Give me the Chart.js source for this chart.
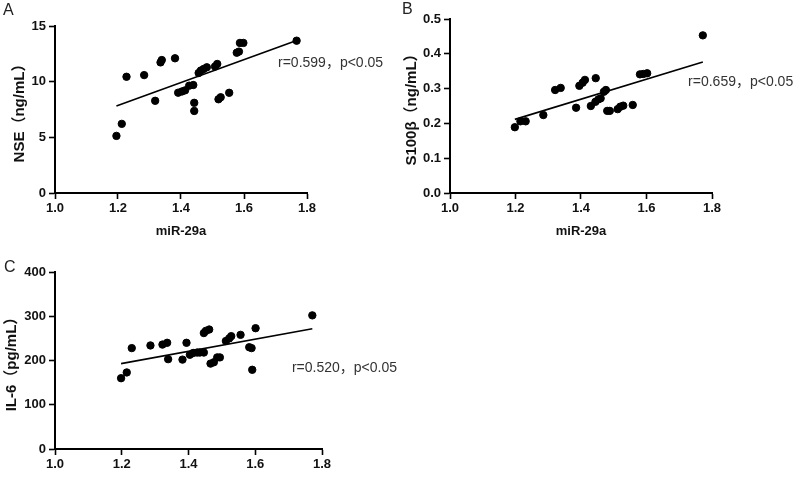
<!DOCTYPE html>
<html lang="zh">
<head>
  <meta charset="UTF-8">
  <title>miR-29a correlation</title>
  <style>
    /* page is a fixed 800x477 figure with three panels */
    body { margin: 0; background: #fff; }
    .figure { position: relative; width: 800px; height: 477px; overflow: hidden; background: #fff; }
    .panel { position: absolute; }
    .letter {
      position: absolute;
      font-family: 'Liberation Sans', Arial, sans-serif;
      font-size: 16px;
      color: #222;
    }
  </style>
</head>
<body>
  <div class="figure">
    <div class="panel" style="left:0;top:0;width:400px;height:245px"><canvas id="chartA"></canvas></div>
    <div class="panel" style="left:400px;top:0;width:400px;height:245px"><canvas id="chartB"></canvas></div>
    <div class="panel" style="left:0;top:255px;width:400px;height:222px"><canvas id="chartC"></canvas></div>
    <div class="letter" style="left:3px;top:1px">A</div>
    <div class="letter" style="left:402px;top:0px">B</div>
    <div class="letter" style="left:4px;top:258px">C</div>
  </div>

  <script src="https://cdn.jsdelivr.net/npm/chart.js"></script>
  <script>
    // miR-29a (x) vs NSE / S100β / IL-6 (y)
    const xTicks = [1.0, 1.2, 1.4, 1.6, 1.8];

    const nseX = [1.195,1.212,1.227,1.283,1.318,1.335,1.339,1.381,1.391,1.403,1.413,1.426,1.439,1.442,1.442,1.456,1.463,1.472,1.482,1.508,1.515,1.519,1.526,1.553,1.577,1.584,1.587,1.598,1.767];
    const nseY = [5.13,6.21,10.44,10.59,8.28,11.73,11.94,12.10,9.01,9.12,9.22,9.64,9.70,8.10,7.37,10.78,11.00,11.14,11.29,11.36,11.59,8.42,8.60,9.00,12.60,12.70,13.48,13.48,13.68];
    const nseFit = { slope: 10.3, intercept: -4.5 };
    const nseTicks = [0, 5, 10, 15];

    const s100X = [1.198,1.215,1.231,1.285,1.321,1.338,1.385,1.395,1.405,1.412,1.445,1.430,1.444,1.453,1.460,1.470,1.476,1.480,1.488,1.512,1.520,1.529,1.558,1.580,1.590,1.602,1.772];
    const s100Y = [0.189,0.206,0.206,0.224,0.296,0.302,0.245,0.308,0.317,0.325,0.330,0.250,0.262,0.269,0.272,0.291,0.296,0.236,0.236,0.241,0.248,0.251,0.253,0.341,0.342,0.344,0.453];
    const s100Fit = { slope: 0.2876, intercept: -0.133 };
    const s100Ticks = [0.0, 0.1, 0.2, 0.3, 0.4, 0.5];

    const il6X = [1.198,1.215,1.230,1.286,1.322,1.336,1.339,1.382,1.394,1.404,1.414,1.426,1.434,1.446,1.446,1.452,1.462,1.466,1.476,1.486,1.494,1.512,1.522,1.528,1.556,1.582,1.589,1.591,1.601,1.771];
    const il6Y = [160,173,228,234,236,240,203,202,240,213,217,218,218,218,262,267,270,193,196,207,207,244,250,255,258,230,228,179,273,302];
    const il6Fit = { slope: 137.9, intercept: 27.7 };
    const il6Ticks = [0, 100, 200, 300, 400];

    const FONT = "'Liberation Sans', 'Noto Sans CJK SC', Arial, sans-serif";

    // writes the r / p text next to the fit line
    const statsText = {
      id: 'statsText',
      afterDatasetsDraw(chart, args, opts) {
        if (!opts.text) return;
        const ctx = chart.ctx;
        const px = chart.scales.x.getPixelForValue(opts.x);
        const py = chart.scales.y.getPixelForValue(opts.y);
        ctx.save();
        ctx.font = '14px ' + FONT;
        ctx.fillStyle = '#333';
        ctx.textAlign = 'left';
        ctx.textBaseline = 'middle';
        ctx.fillText(opts.text, px, py);
        ctx.restore();
      }
    };

    function fitLine(xs, fit) {
      const lo = Math.min(...xs), hi = Math.max(...xs);
      return [lo, hi].map(x => ({ x: x, y: fit.slope * x + fit.intercept }));
    }

    function makeChart(id, p) {
      const pts = p.xs.map((x, i) => ({ x: x, y: p.ys[i] }));
      new Chart(document.getElementById(id), {
        type: 'scatter',
        data: {
          datasets: [
            {
              data: pts,
              backgroundColor: '#000',
              borderColor: '#000',
              pointRadius: 3.7,
              pointHoverRadius: 3.7
            },
            {
              type: 'line',
              data: fitLine(p.xs, p.fit),
              borderColor: '#000',
              borderWidth: 1.6,
              pointRadius: 0,
              fill: false
            }
          ]
        },
        options: {
          responsive: true,
          maintainAspectRatio: false,
          animation: false,
          events: [],
          layout: { padding: p.pad },
          plugins: {
            legend: { display: false },
            tooltip: { enabled: false },
            statsText: p.stats
          },
          scales: {
            x: {
              type: 'linear',
              min: 1.0,
              max: 1.8,
              afterBuildTicks: s => { s.ticks = xTicks.map(v => ({ value: v })); },
              afterFit: s => { s.height = p.xHeight; },
              border: { display: true, color: '#000', width: 2 },
              grid: { drawOnChartArea: false, drawTicks: true, tickLength: 6, tickWidth: 1.6, tickColor: '#000' },
              ticks: {
                padding: 2,
                color: '#111',
                font: { family: FONT, size: 13, weight: 'bold' },
                callback: v => v.toFixed(1)
              },
              title: {
                display: p.xTitle,
                text: 'miR-29a',
                color: '#111',
                padding: { top: 0, bottom: 6 },
                font: { family: FONT, size: 13, weight: 'bold' }
              }
            },
            y: {
              type: 'linear',
              min: p.yTicks[0],
              max: p.yTicks[p.yTicks.length - 1],
              afterBuildTicks: s => { s.ticks = p.yTicks.map(v => ({ value: v })); },
              afterFit: s => { s.width = p.yWidth; },
              border: { display: true, color: '#000', width: 2 },
              grid: { drawOnChartArea: false, drawTicks: true, tickLength: 6, tickWidth: 1.6, tickColor: '#000' },
              ticks: {
                padding: 3,
                color: '#111',
                font: { family: FONT, size: 13, weight: 'bold' },
                callback: v => v.toFixed(p.dec)
              },
              title: {
                display: true,
                text: p.yTitle,
                color: '#111',
                padding: { top: p.yTitlePad, bottom: 0 },
                font: { family: FONT, size: 15, weight: 'bold' }
              }
            }
          }
        },
        plugins: [statsText]
      });
    }

    window.addEventListener('load', () => {
      makeChart('chartA', {
        xs: nseX, ys: nseY, fit: nseFit, yTicks: nseTicks, dec: 0,
        yTitle: 'NSE（ng/mL）', xTitle: true,
        pad: { left: 0, top: 26, right: 93, bottom: 0 }, yWidth: 55, xHeight: 52, yTitlePad: 11,
        stats: { text: 'r=0.599，p<0.05', x: 1.708, y: 11.65 }
      });
      makeChart('chartB', {
        xs: s100X, ys: s100Y, fit: s100Fit, yTicks: s100Ticks, dec: 1,
        yTitle: 'S100β（ng/mL）', xTitle: true,
        pad: { left: 0, top: 19, right: 88, bottom: 0 }, yWidth: 50, xHeight: 52, yTitlePad: 3,
        stats: { text: 'r=0.659，p<0.05', x: 1.727, y: 0.318 }
      });
      makeChart('chartC', {
        xs: il6X, ys: il6Y, fit: il6Fit, yTicks: il6Ticks, dec: 0,
        yTitle: 'IL-6（pg/mL）', xTitle: false,
        pad: { left: 0, top: 17, right: 78, bottom: 0 }, yWidth: 55, xHeight: 28, yTitlePad: 3,
        stats: { text: 'r=0.520，p<0.05', x: 1.71, y: 183 }
      });
    });
  </script>
</body>
</html>
